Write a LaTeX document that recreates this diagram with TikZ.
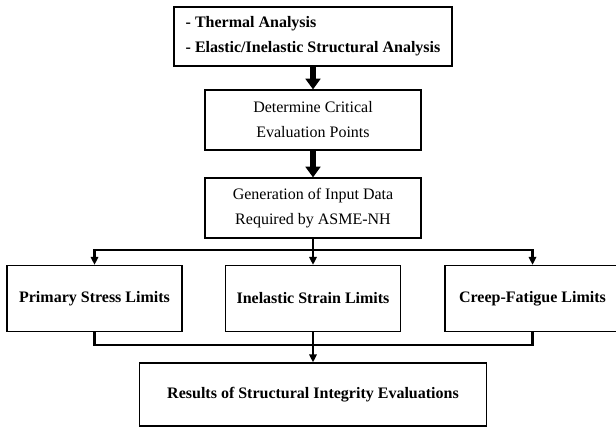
\documentclass[tikz,border=0pt]{standalone}
\usepackage{fontspec}
\setmainfont{Liberation Serif}
\usetikzlibrary{arrows.meta}
\begin{document}
\begin{tikzpicture}[
    x=0.75pt, y=-0.75pt,
    box/.style={rectangle, draw, line width=0.9pt, align=center, font=\fontsize{12}{18.75}\selectfont},
    topbox/.style={box, align=left, font=\fontsize{12}{18.75}\selectfont\bfseries, minimum width=208.5pt, minimum height=44.25pt},
    stepbox/.style={box, minimum width=162pt, minimum height=45pt},
    limit/.style={box, font=\fontsize{12}{18.75}\selectfont\bfseries, minimum width=131.25pt, minimum height=49.5pt},
    result/.style={box, font=\fontsize{12}{18.75}\selectfont\bfseries, minimum width=260.25pt, minimum height=47.25pt},
    bigarrow/.style={-{Triangle[length=8pt,width=11pt]}, line width=4pt},
    bus/.style={line width=1.8pt},
    arrow/.style={bus, -{Triangle[length=6pt,width=5.5pt]}}
]
\useasboundingbox (0,0) rectangle (616,427);

% Analysis chain
\node[topbox] (analysis) at (313, 36.5) {- Thermal Analysis\\- Elastic/Inelastic Structural Analysis};
\node[stepbox] (points) at (313, 120) {Determine Critical\\Evaluation Points};
\node[stepbox] (input) at (313, 208) {Generation of Input Data\\Required by ASME-NH};
\draw[bigarrow] (analysis) -- (points);
\draw[bigarrow] (points) -- (input);

% Limit checks
\node[limit] (primary) at (94.5, 298.5) {Primary Stress Limits};
\node[limit] (strain) at (313, 298.5) {Inelastic Strain Limits};
\node[limit] (creep) at (532.5, 298.5) {Creep-Fatigue Limits};
\coordinate (split) at (313, 250);
\draw[bus] (input) -- (split);
\draw[arrow] (split) -| (primary);
\draw[arrow] (split) -- (strain);
\draw[arrow] (split) -| (creep);

% Results
\node[result] (results) at (313, 394.5) {Results of Structural Integrity Evaluations};
\coordinate (merge) at (313, 345);
\draw[bus] (primary) |- (merge) -| (creep);
\draw[arrow] (strain) -- (results);

\end{tikzpicture}
\end{document}
